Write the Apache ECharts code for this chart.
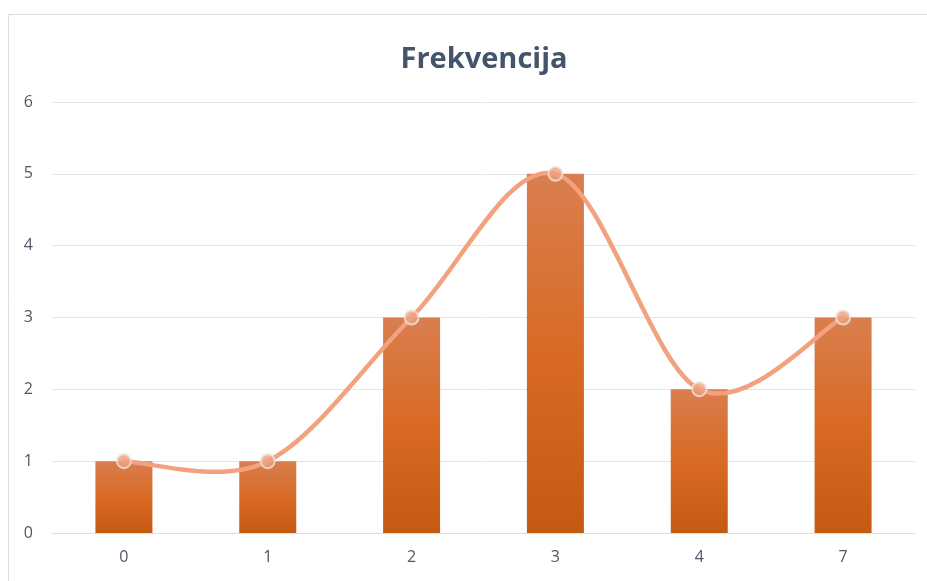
<!DOCTYPE html>
<html>
<head>
<meta charset="utf-8">
<script src="https://cdn.jsdelivr.net/npm/echarts@6/dist/echarts.min.js"></script>
<style>
  html, body { margin: 0; padding: 0; background: #fff; }
  #chart { width: 927px; height: 581px; }
</style>
</head>
<body>
<div id="chart"></div>
<script>
const categories = ['0', '1', '2', '3', '4', '7']
const counts = [1, 1, 3, 5, 2, 3]
const yTicks = [0, 1, 2, 3, 4, 5, 6]

const chart = echarts.init(document.getElementById('chart'))

// smooth curve through the points, Excel-style (catmull-rom -> bezier)
const renderCurve = (params, api) => {
  if (params.dataIndex !== 0) return null
  const pts = counts.map((v, i) => api.coord([i, v]))
  const n = pts.length
  const at = (i) => pts[Math.max(0, Math.min(n - 1, i))]
  let d = `M${pts[0][0]},${pts[0][1]}`
  for (let i = 0; i < n - 1; i++) {
    const p0 = at(i - 1), p1 = at(i), p2 = at(i + 1), p3 = at(i + 2)
    const c1 = [p1[0] + (p2[0] - p0[0]) / 6, p1[1] + (p2[1] - p0[1]) / 6]
    const c2 = [p2[0] - (p3[0] - p1[0]) / 6, p2[1] - (p3[1] - p1[1]) / 6]
    d += ` C${c1[0]},${c1[1]} ${c2[0]},${c2[1]} ${p2[0]},${p2[1]}`
  }
  return {
    type: 'path',
    shape: { pathData: d },
    style: { fill: null, stroke: '#F2A27F', lineWidth: 4.5, lineCap: 'round', lineJoin: 'round' },
  }
}

chart.setOption({
  animation: false,
  title: {
    text: 'Frekvencija',
    left: 479,
    top: 40,
    textAlign: 'center',
    textStyle: { color: '#44546A', fontSize: 29, fontWeight: 'bold', fontFamily: 'Open Sans' },
  },
  graphic: [
    {
      type: 'rect',
      shape: { x: 8.5, y: 14.5, width: 940, height: 600 },
      style: { fill: null, stroke: '#DADDE3', lineWidth: 1 },
      silent: true,
    },
  ],
  grid: { left: 52, right: 12, top: 102, bottom: 48, containLabel: false },
  xAxis: {
    type: 'category',
    data: categories,
    axisTick: { show: false },
    axisLine: { lineStyle: { color: '#D9DEE7', width: 1 } },
    axisLabel: { color: '#4F5666', fontSize: 16, margin: 16, fontFamily: 'Open Sans' },
  },
  yAxis: {
    type: 'value',
    min: yTicks[0],
    max: yTicks[yTicks.length - 1],
    interval: 1,
    axisLine: { show: false },
    axisTick: { show: false },
    axisLabel: { color: '#4F5666', fontSize: 16, margin: 19, fontFamily: 'Open Sans' },
    splitLine: { lineStyle: { color: '#E1E5EC', width: 1 } },
  },
  series: [
    {
      name: 'Frekvencija',
      type: 'bar',
      barWidth: 57,
      data: counts,
      itemStyle: {
        color: new echarts.graphic.LinearGradient(0, 0, 0, 1, [
          { offset: 0, color: '#DA7E4F' },
          { offset: 0.5, color: '#D86A24' },
          { offset: 1, color: '#C55A13' },
        ]),
      },
      z: 2,
    },
    {
      type: 'custom',
      renderItem: renderCurve,
      data: counts,
      z: 3,
      silent: true,
    },
    {
      type: 'scatter',
      data: counts,
      symbol: 'circle',
      symbolSize: 14,
      itemStyle: { color: '#F0A07D', borderColor: '#E9E5E2', borderWidth: 2 },
      z: 4,
    },
  ],
})
</script>
</body>
</html>
